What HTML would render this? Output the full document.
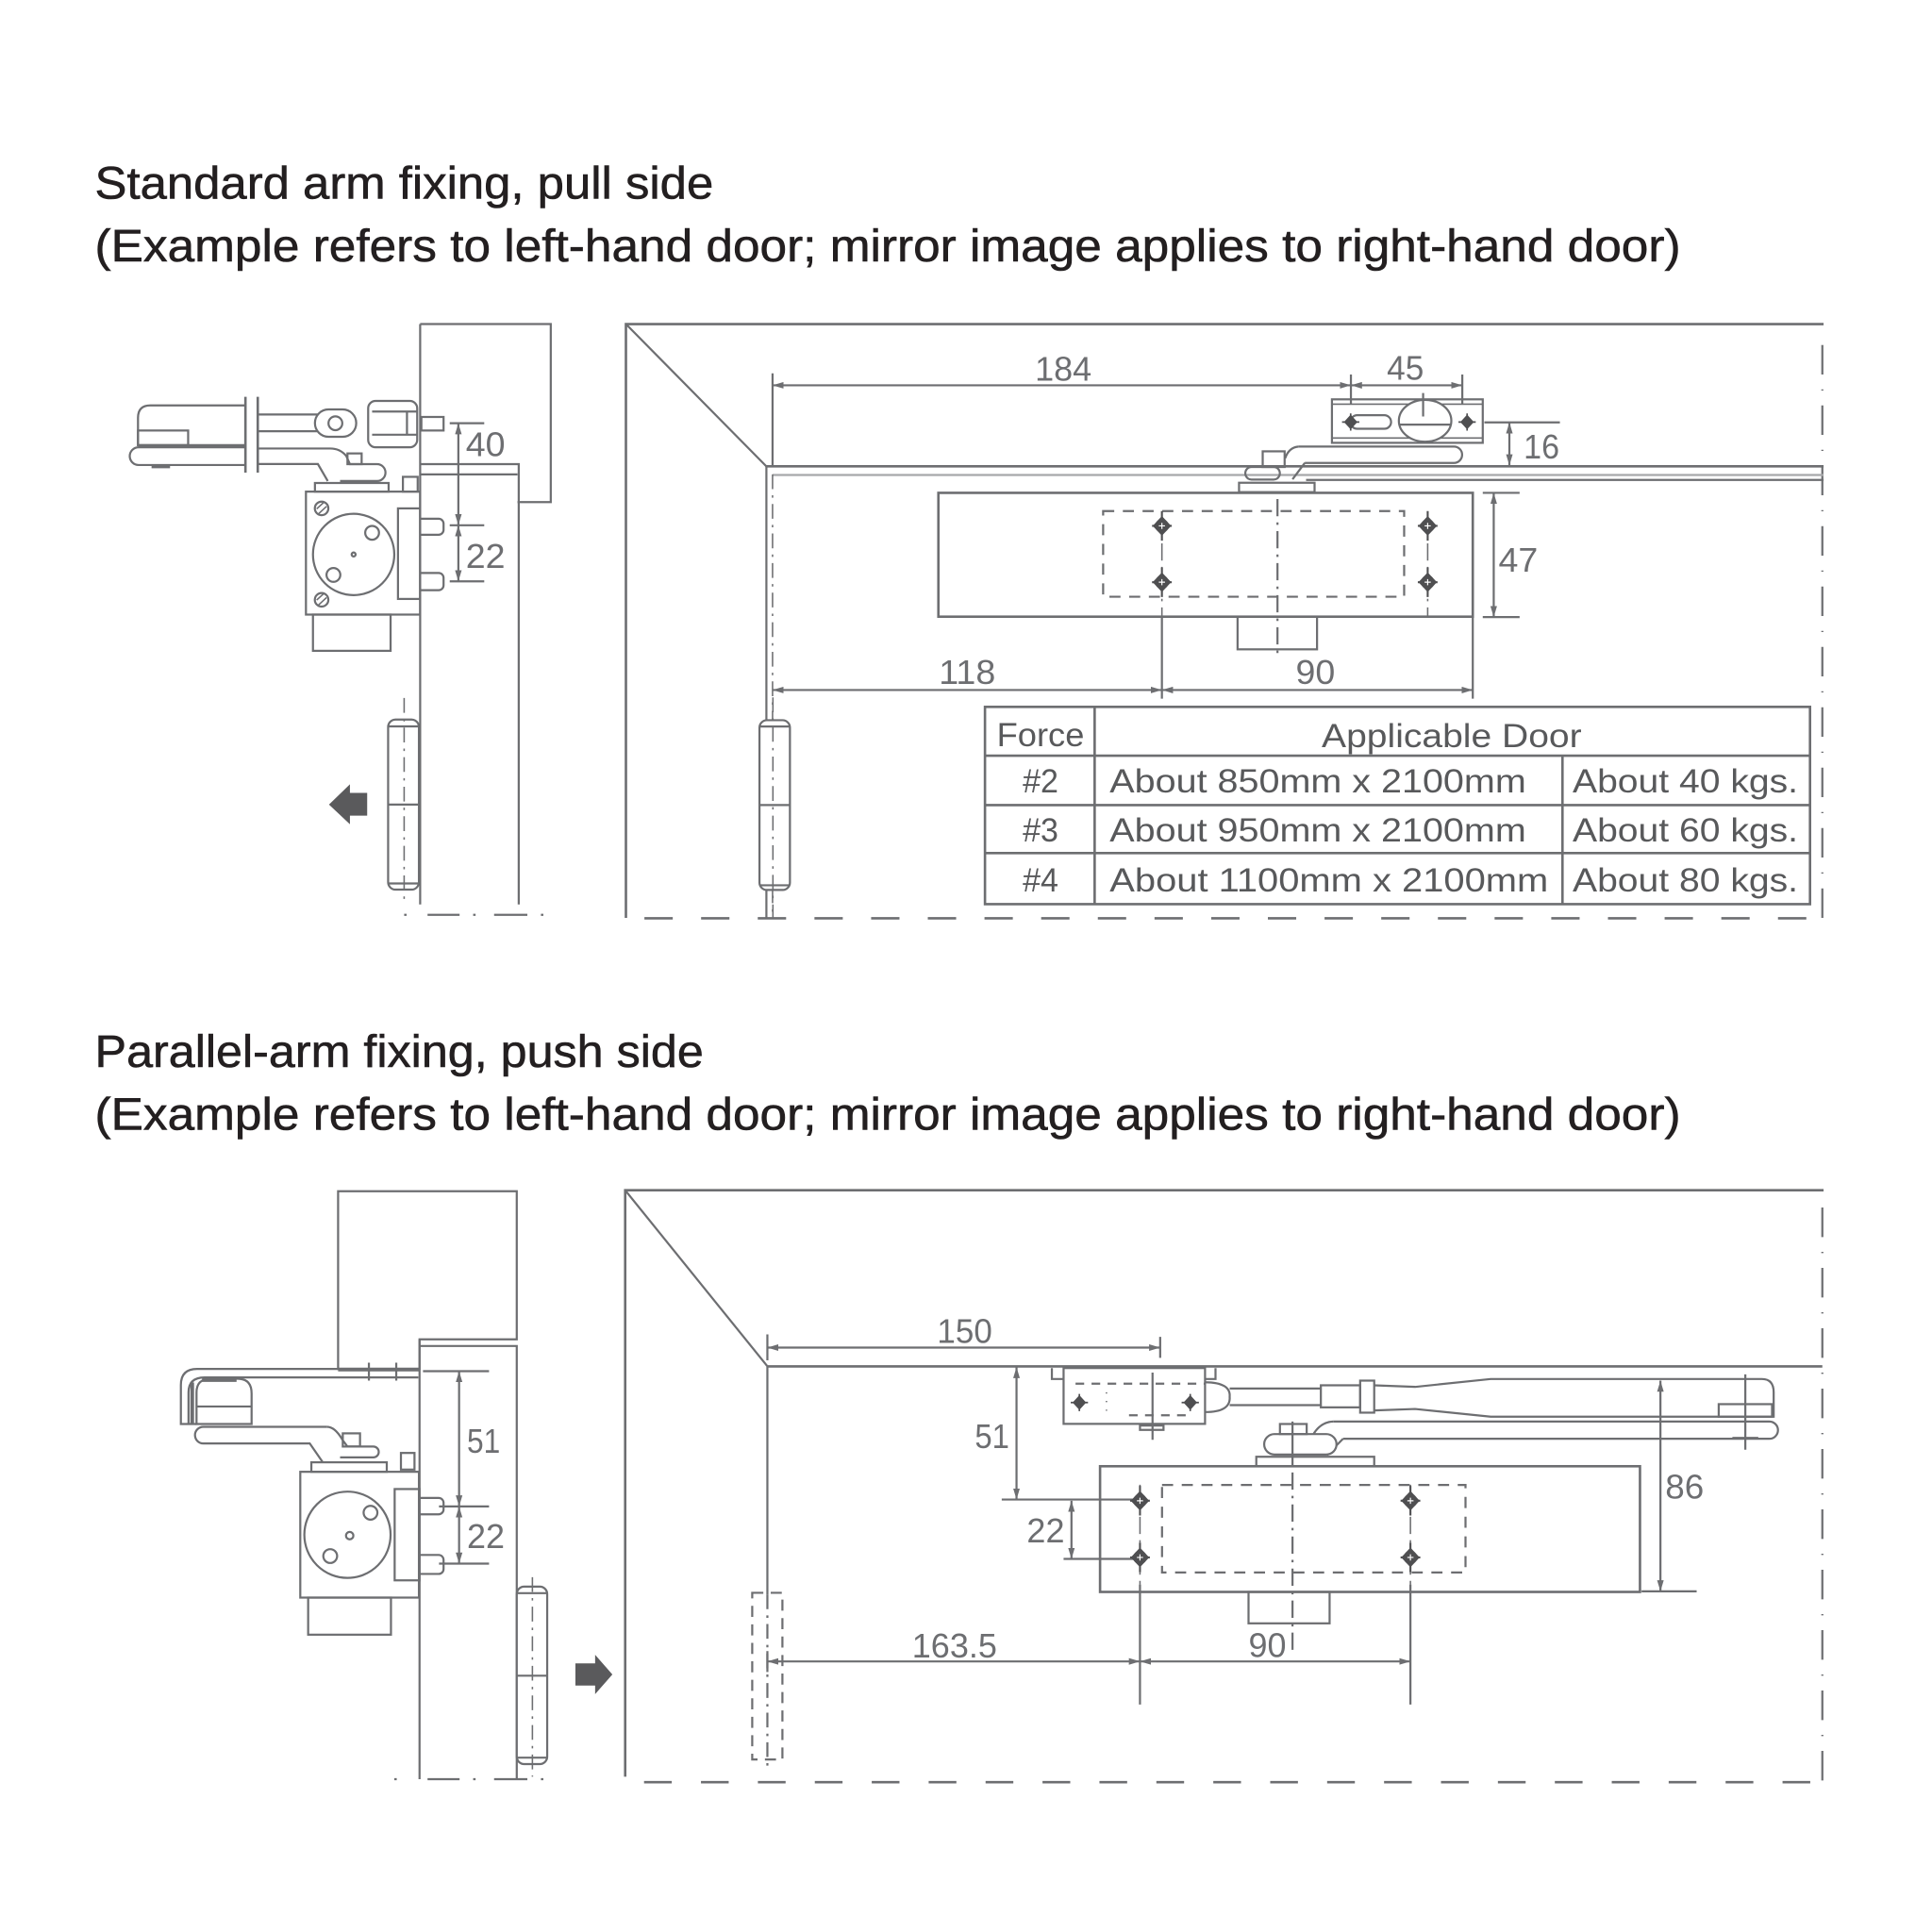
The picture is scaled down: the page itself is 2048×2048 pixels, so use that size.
<!DOCTYPE html>
<html><head><meta charset="utf-8"><style>html,body{margin:0;padding:0;background:#fff}svg{display:block}</style></head>
<body>
<svg xmlns="http://www.w3.org/2000/svg" width="2048" height="2048" viewBox="0 0 1568 1568" font-family="'Liberation Sans', Arial, sans-serif">
<defs>
<marker id="ar" viewBox="0 0 10 6" refX="10" refY="3" markerWidth="9" markerHeight="5.5" orient="auto-start-reverse" markerUnits="userSpaceOnUse"><path d="M0,0 L10,3 L0,6 z" fill="#6d6e71"/></marker>
<g id="h"><path d="M-7.5,0 L0,-8 L7.5,0 L0,8 Z" fill="#4f4f51" stroke="none"/><circle r="5.5" fill="#4f4f51" stroke="none"/><path d="M0,-12 V12 M-8,0 H8" stroke="#4f4f51" stroke-width="1.6"/><path d="M-2.5,0 H2.5 M0,-2.5 V2.5" stroke="#fff" stroke-width="0.9"/></g>
<g id="hs"><path d="M-5.5,0 L0,-6 L5.5,0 L0,6 Z" fill="#4f4f51" stroke="none"/><circle r="3.8" fill="#4f4f51" stroke="none"/><path d="M0,-7 V7 M-7,0 H7" stroke="#4f4f51" stroke-width="1.3"/></g>
</defs>
<rect width="1568" height="1568" fill="#fff"/>

<!-- TITLES -->
<g fill="#231f20" stroke="#231f20" stroke-width="0.45" font-size="37">
<text x="77" y="161" textLength="502" lengthAdjust="spacingAndGlyphs">Standard arm fixing, pull side</text>
<text x="77" y="212" textLength="1287" lengthAdjust="spacingAndGlyphs">(Example refers to left-hand door; mirror image applies to right-hand door)</text>
<text x="77" y="866" textLength="494" lengthAdjust="spacingAndGlyphs">Parallel-arm fixing, push side</text>
<text x="77" y="917" textLength="1287" lengthAdjust="spacingAndGlyphs">(Example refers to left-hand door; mirror image applies to right-hand door)</text>
</g>

<g fill="none" stroke="#6d6e71" stroke-width="1.7">

<!-- ================= TOP LEFT ================= -->
<path d="M341,263 H447 V407.5 H420"/>
<path d="M341,263 V734"/>
<path d="M341,376.7 H421 V734"/>
<path d="M341,385 H420"/>
<path d="M347,742.5 H373 M401,742.5 H428 M328,742.5 h2 M384,742.5 h2 M439,742.5 h2"/>
<!-- closer body -->
<rect x="248.3" y="399" width="92.7" height="99.8"/>
<rect x="323" y="412.6" width="18" height="73.5"/>
<circle cx="287" cy="450" r="33"/>
<circle cx="302" cy="432.4" r="5.6"/>
<circle cx="270.6" cy="466.6" r="5.6"/>
<circle cx="287" cy="450" r="1.6"/>
<circle cx="261" cy="412.6" r="5.5"/>
<path d="M257,413 L263,407.5 M258.5,417 L265,411" stroke-width="1.2"/>
<circle cx="261" cy="486.8" r="5.5"/>
<path d="M257,487 L263,481.5 M258.5,491 L265,485" stroke-width="1.2"/>
<rect x="254" y="498.8" width="63" height="29.4"/>
<path d="M341,421 H356 a4,4 0 0 1 4,4 V430 a4,4 0 0 1 -4,4 H341"/>
<path d="M341,465 H356 a4,4 0 0 1 4,4 V475 a4,4 0 0 1 -4,4 H341"/>
<rect x="327" y="387" width="12" height="12"/>
<rect x="255.6" y="392" width="59.8" height="7"/>
<rect x="342" y="338.4" width="18" height="11"/>
<!-- arm -->
<path d="M199,329 H122 Q112,329 112,339 V361.3 H199"/>
<rect x="112" y="349.4" width="40.7" height="11.9"/>
<path d="M199,363 H112.5 a7.2,7.2 0 0 0 0,14.4 H199"/>
<path d="M123,378.5 H138" stroke-width="3"/>
<path d="M199.2,322 V383.6 M209.2,322 V383.6" stroke-width="2"/>
<path d="M209,336.4 H258 M209,350 H258"/>
<rect x="255.6" y="332.3" width="33.5" height="22.2" rx="11"/>
<circle cx="272.2" cy="343.5" r="5.6"/>
<rect x="298.8" y="325.4" width="39.8" height="37.6" rx="6"/>
<path d="M302,334 H338.6 M302,352.8 H338.6 M330.3,334 V352.8"/>
<path d="M209,364 H268 Q276,364 281,370 L284,376.7 H306 a6.8,6.8 0 0 1 0,13.7 H276"/>
<path d="M209,376.6 H258 L266,390.4"/>
<rect x="282" y="368" width="11.5" height="8.7"/>
<!-- dims 40 / 22 -->
<path d="M365,343.5 H393 M365,426.3 H393 M365,471.8 H393"/>
<path d="M372,343.5 V426.3" marker-start="url(#ar)" marker-end="url(#ar)"/>
<path d="M372,426.3 V471.8" marker-start="url(#ar)" marker-end="url(#ar)"/>
<!-- hinge -->
<rect x="315" y="584" width="25" height="138" rx="6"/>
<path d="M315,589.5 H340 M315,717 H340 M315,653 H340"/>
<path d="M328,566.5 V734" stroke-dasharray="12 5 2 5" stroke-width="1.2"/>

<!-- ================= TOP RIGHT ================= -->
<path d="M508,745 V263 H1480" stroke-width="2"/>
<path d="M508,263 L622,378.5"/>
<path d="M1479,280 V745" stroke-dasharray="24 12 1 12"/>
<path d="M523,745.3 H1480" stroke-dasharray="23 23" stroke-width="2"/>
<path d="M622,378.5 H1480" stroke-width="2"/>
<path d="M627,385.5 H1480" stroke="#a7a8aa"/>
<path d="M1060,389.5 H1480"/>
<path d="M622,378.5 V584 M622,722 V745"/>
<path d="M627,385 V745" stroke-dasharray="12 5 2 5" stroke-width="1.2"/>
<path d="M627,303 V378.5"/>
<!-- 184 / 45 / 16 -->
<path d="M627,312.7 H1096.4" marker-start="url(#ar)" marker-end="url(#ar)"/>
<path d="M1096.4,312.7 H1186.8" marker-start="url(#ar)" marker-end="url(#ar)"/>
<path d="M1096.4,304 V328 M1186.8,304 V328"/>
<path d="M1204.7,342.8 H1266"/>
<path d="M1225,342.8 V377.7" marker-start="url(#ar)" marker-end="url(#ar)"/>
<!-- bracket -->
<rect x="1081" y="324.1" width="122.4" height="35.3"/>
<path d="M1081,328 H1203.4 M1081,355.5 H1203.4" stroke-width="1.2"/>
<ellipse cx="1156.6" cy="341.5" rx="21.3" ry="17" fill="#fff"/>
<path d="M1135.5,344.6 H1177.8 M1155,319 V338"/>
<rect x="1096" y="337" width="33" height="11" rx="5.5"/>
<use href="#hs" x="1096.2" y="342.5"/>
<use href="#hs" x="1190.7" y="342.5"/>
<!-- arm -->
<path d="M1054,362.4 H1180 a6.6,6.6 0 0 1 0,13.3 H1059"/>
<path d="M1054,362.4 Q1046,363 1043,372"/>
<path d="M1059,375.7 L1049,389"/>
<rect x="1010.7" y="379" width="28" height="10.2" rx="5"/>
<rect x="1024.8" y="366.3" width="17.8" height="12.7"/>
<rect x="1005.6" y="391.8" width="61.3" height="7.6"/>
<!-- body -->
<rect x="761.6" y="400" width="433.7" height="100.5" stroke-width="2"/>
<rect x="895.3" y="414.8" width="244.3" height="69.5" stroke-dasharray="9 7"/>
<path d="M1036.8,405 V530" stroke-dasharray="14 5 2 5"/>
<rect x="1004.4" y="500.5" width="64.5" height="26.5"/>
<path d="M943,415 V500" stroke-dasharray="14 5 2 5" stroke-width="1.2"/>
<path d="M1158.7,415 V500" stroke-dasharray="14 5 2 5" stroke-width="1.2"/>
<path d="M943,500 V567 M1195.3,500.5 V567"/>
<!-- 47 -->
<path d="M1203.4,400 H1233.3 M1203.4,500.8 H1233.3"/>
<path d="M1212.3,400 V500.8" marker-start="url(#ar)" marker-end="url(#ar)"/>
<!-- 118 / 90 -->
<path d="M627,560 H943" marker-start="url(#ar)" marker-end="url(#ar)"/>
<path d="M943,560 H1195.3" marker-start="url(#ar)" marker-end="url(#ar)"/>
<!-- hinge -->
<rect x="616.4" y="584.5" width="24.7" height="137.8" rx="6" fill="#fff"/>
<path d="M616.4,589.6 H641.1 M616.4,718.5 H641.1 M616.4,653.4 H641.1"/>
<path d="M627.3,566 V745" stroke-dasharray="12 5 2 5" stroke-width="1.2"/>
<!-- table -->
<rect x="799.4" y="573.7" width="669.6" height="160.1" stroke-width="2"/>
<path d="M799.4,613.3 H1469 M799.4,653.4 H1469 M799.4,692.4 H1469 M888.4,573.7 V733.8 M1268.1,613.3 V733.8" stroke-width="2"/>

<!-- ================= BOTTOM LEFT ================= -->
<path d="M274.4,966.8 H419.4 V1087 H340.5 V1111 H274.4 Z"/>
<path d="M340.5,1087 V1444"/>
<path d="M340.5,1092.4 H419.4 V1444"/>
<path d="M347,1444 H373 M401,1444 H428 M320,1444 h2 M384,1444 h2 M439,1444 h2"/>
<!-- arm -->
<path d="M274.4,1111 H160 Q146.8,1111 146.8,1124 V1155.7 H159.5"/>
<path d="M339.5,1117.9 H166 Q153,1118 153,1130 V1155.7"/>
<path d="M274.4,1111.5 H340" stroke-width="3"/>
<path d="M156,1122 V1155" stroke-width="3"/>
<path d="M159.5,1155.7 V1130 Q159.5,1119 171,1119 H193 Q204.2,1119 204.2,1131 V1155.7 Z"/>
<path d="M159.5,1141.5 H204.2"/>
<path d="M164,1120 H192" stroke-width="3"/>
<path d="M299.4,1105.9 V1120.5 M321.6,1105.9 V1120.5"/>
<path d="M265.4,1158 H165 a6.75,6.75 0 0 0 0,13.5 H251.4 L262,1186.8"/>
<path d="M265.4,1158 Q272,1158 278.2,1169 L282,1174 H303 a4.4,4.4 0 0 1 0,8.8 H276"/>
<rect x="278.2" y="1163.3" width="14" height="10.7"/>
<rect x="252.7" y="1186.8" width="61.2" height="7.7"/>
<rect x="325.4" y="1179.2" width="11" height="13.5"/>
<!-- body -->
<rect x="243.7" y="1194.5" width="96.3" height="102.1"/>
<rect x="320.3" y="1208.5" width="20.2" height="74.1"/>
<circle cx="282" cy="1245.6" r="35"/>
<circle cx="300.7" cy="1227.7" r="5.6"/>
<circle cx="268" cy="1262.9" r="5.6"/>
<circle cx="283.8" cy="1246.3" r="3"/>
<rect x="250.1" y="1296.6" width="67.2" height="30.1"/>
<path d="M340.5,1215.7 H356 a4,4 0 0 1 4,4 V1225 a4,4 0 0 1 -4,4 H340.5"/>
<path d="M340.5,1262 H356 a4,4 0 0 1 4,4 V1273.4 a4,4 0 0 1 -4,4 H340.5"/>
<!-- dims 51 / 22 -->
<path d="M343.3,1112.8 H396.9 M356.3,1222.6 H396.9 M356.3,1269 H396.9"/>
<path d="M372.6,1112.8 V1222.6" marker-start="url(#ar)" marker-end="url(#ar)"/>
<path d="M372.6,1222.6 V1269" marker-start="url(#ar)" marker-end="url(#ar)"/>
<!-- hinge -->
<rect x="419.4" y="1287.7" width="24.7" height="144" rx="6" fill="#fff"/>
<path d="M419.4,1293 H444.1 M419.4,1426.5 H444.1 M419.4,1360 H444.1"/>
<path d="M432.1,1280 V1442" stroke-dasharray="12 5 2 5" stroke-width="1.2"/>

<!-- ================= BOTTOM RIGHT ================= -->
<path d="M507.4,1442 V966 H1480" stroke-width="2"/>
<path d="M507.4,966 L622.5,1108.5"/>
<path d="M1479,980 V1446" stroke-dasharray="24 12 1 12"/>
<path d="M522.7,1446.4 H1480" stroke-dasharray="22.5 23.7" stroke-width="2"/>
<path d="M622.5,1109 H1479" stroke-width="2"/>
<path d="M622.8,1108.5 V1294"/>
<path d="M622.8,1294 V1434" stroke-dasharray="12 5 2 5"/>
<rect x="610.5" y="1292.7" width="24.5" height="135.3" stroke-dasharray="9 6"/>
<!-- 150 -->
<path d="M622.8,1083 V1104 M941.6,1085 V1102"/>
<path d="M622.8,1093.7 H941.6" marker-start="url(#ar)" marker-end="url(#ar)"/>
<!-- 51 / 22 -->
<path d="M825,1109.5 V1217" marker-start="url(#ar)" marker-end="url(#ar)"/>
<path d="M813,1217 H925"/>
<path d="M869.6,1218 V1265.2" marker-start="url(#ar)" marker-end="url(#ar)"/>
<path d="M863.2,1265.2 H925"/>
<!-- bracket -->
<rect x="863.2" y="1110.3" width="114.8" height="45.3"/>
<path d="M853.7,1110.3 V1119.2 H863.2 M986.5,1110.3 V1119.2 H978"/>
<path d="M872.9,1123 H977.5" stroke-dasharray="7 6"/>
<path d="M916.3,1148.6 H966" stroke-dasharray="7 6"/>
<path d="M935.4,1114 V1168.5"/>
<path d="M925.2,1157 H944.3 V1160.5 H925.2 Z"/>
<use href="#hs" x="876" y="1138.3"/>
<use href="#hs" x="966" y="1138.3"/>
<path d="M898,1130 v1 M898,1137 v1 M898,1144 v1" stroke-width="1.2"/>
<path d="M978,1121.8 Q999,1122 998,1133.6 Q999,1146 978,1146"/>
<path d="M998,1126.9 H1072 M998,1140.4 H1072"/>
<rect x="1072" y="1124.3" width="31.9" height="17.9"/>
<rect x="1103.9" y="1120.5" width="11.4" height="26"/>
<path d="M1115.3,1124.3 L1148.5,1125.6 L1209.8,1119.2 H1430 Q1439.5,1119.2 1439.5,1130 V1149.8 H1209.8 L1148.5,1143.5 L1115.3,1144.7"/>
<rect x="1394.9" y="1139.6" width="43.3" height="10.2"/>
<path d="M1416.5,1115.4 V1176.6 M1406,1167 H1427"/>
<path d="M1082,1153.7 H1436 a7,7 0 0 1 0,14 H1090"/>
<path d="M1082,1153.7 Q1072,1154 1066,1163.9"/>
<path d="M1090,1167.7 L1077,1181"/>
<rect x="1026" y="1163.9" width="58.7" height="16.6" rx="8.3" fill="#fff"/>
<rect x="1038.8" y="1155.7" width="21.7" height="8.2"/>
<path d="M1049,1153.7 V1190.7"/>
<rect x="1019.6" y="1182.3" width="95.7" height="7.7"/>
<!-- body -->
<rect x="892.8" y="1190" width="438.2" height="102" stroke-width="2"/>
<rect x="943.1" y="1205.2" width="246.3" height="71" stroke-dasharray="9 7"/>
<path d="M1049,1195 V1340" stroke-dasharray="14 5 2 5"/>
<rect x="1013.3" y="1292" width="65.8" height="25.5"/>
<path d="M925.2,1205 V1286" stroke-dasharray="14 5 2 5" stroke-width="1.2"/>
<path d="M1144.7,1205 V1286" stroke-dasharray="14 5 2 5" stroke-width="1.2"/>
<path d="M925.2,1286 V1383.4 M1144.7,1286 V1383.4"/>
<!-- 163.5 / 90 -->
<path d="M622.8,1340 V1357"/>
<path d="M622.8,1348.4 H925.2" marker-start="url(#ar)" marker-end="url(#ar)"/>
<path d="M925.2,1348.4 H1144.7" marker-start="url(#ar)" marker-end="url(#ar)"/>
<!-- 86 -->
<path d="M1347.6,1120.5 V1291.5" marker-start="url(#ar)" marker-end="url(#ar)"/>
<path d="M1332.3,1291.5 H1377"/>
</g>

<!-- holes -->
<use href="#h" x="943" y="426.8"/>
<use href="#h" x="943" y="472.5"/>
<use href="#h" x="1158.7" y="426.8"/>
<use href="#h" x="1158.7" y="472.5"/>
<use href="#h" x="925.2" y="1218"/>
<use href="#h" x="925.2" y="1264"/>
<use href="#h" x="1144.7" y="1218"/>
<use href="#h" x="1144.7" y="1264"/>

<!-- arrows (door direction) -->
<path d="M267,653 L284,636.5 V643.5 H298 V662 H284 V669 Z" fill="#5a5a5c"/>
<path d="M497,1359 L483,1343 V1350 H467 V1368 H483 V1375 Z" fill="#5a5a5c"/>

<!-- dimension texts -->
<g fill="#6d6e71" font-size="28">
<text x="378" y="370" textLength="32" lengthAdjust="spacingAndGlyphs">40</text>
<text x="378" y="461" textLength="32" lengthAdjust="spacingAndGlyphs">22</text>
<text x="840" y="308.8" textLength="46" lengthAdjust="spacingAndGlyphs">184</text>
<text x="1125.6" y="308.3" textLength="30" lengthAdjust="spacingAndGlyphs">45</text>
<text x="1236.6" y="372.1" textLength="29" lengthAdjust="spacingAndGlyphs">16</text>
<text x="1216.2" y="464" textLength="32" lengthAdjust="spacingAndGlyphs">47</text>
<text x="762" y="555" textLength="46" lengthAdjust="spacingAndGlyphs">118</text>
<text x="1051.6" y="555" textLength="32" lengthAdjust="spacingAndGlyphs">90</text>
<text x="379" y="1179.2" textLength="27" lengthAdjust="spacingAndGlyphs">51</text>
<text x="379" y="1256.3" textLength="30.6" lengthAdjust="spacingAndGlyphs">22</text>
<text x="760.6" y="1089.8" textLength="44.7" lengthAdjust="spacingAndGlyphs">150</text>
<text x="791.2" y="1175.3" textLength="28" lengthAdjust="spacingAndGlyphs">51</text>
<text x="833.3" y="1251.9" textLength="30.7" lengthAdjust="spacingAndGlyphs">22</text>
<text x="740.2" y="1345.1" textLength="69" lengthAdjust="spacingAndGlyphs">163.5</text>
<text x="1013.3" y="1345" textLength="30.6" lengthAdjust="spacingAndGlyphs">90</text>
<text x="1351.5" y="1216.2" textLength="31.4" lengthAdjust="spacingAndGlyphs">86</text>
</g>

<!-- table text -->
<g fill="#58595b" font-size="27">
<text x="809" y="605.5" textLength="71" lengthAdjust="spacingAndGlyphs">Force</text>
<text x="1072.7" y="606.5" textLength="211" lengthAdjust="spacingAndGlyphs">Applicable Door</text>
<text x="830" y="643.2" textLength="29" lengthAdjust="spacingAndGlyphs">#2</text>
<text x="830" y="682.8" textLength="29" lengthAdjust="spacingAndGlyphs">#3</text>
<text x="830" y="723.6" textLength="29" lengthAdjust="spacingAndGlyphs">#4</text>
<text x="900.6" y="643.2" textLength="338" lengthAdjust="spacingAndGlyphs">About 850mm x 2100mm</text>
<text x="900.6" y="682.8" textLength="338" lengthAdjust="spacingAndGlyphs">About 950mm x 2100mm</text>
<text x="900.6" y="723.6" textLength="356" lengthAdjust="spacingAndGlyphs">About 1100mm x 2100mm</text>
<text x="1276.3" y="643.2" textLength="183" lengthAdjust="spacingAndGlyphs">About 40 kgs.</text>
<text x="1276.3" y="682.8" textLength="183" lengthAdjust="spacingAndGlyphs">About 60 kgs.</text>
<text x="1276.3" y="723.6" textLength="183" lengthAdjust="spacingAndGlyphs">About 80 kgs.</text>
</g>
</svg>
</body></html>
